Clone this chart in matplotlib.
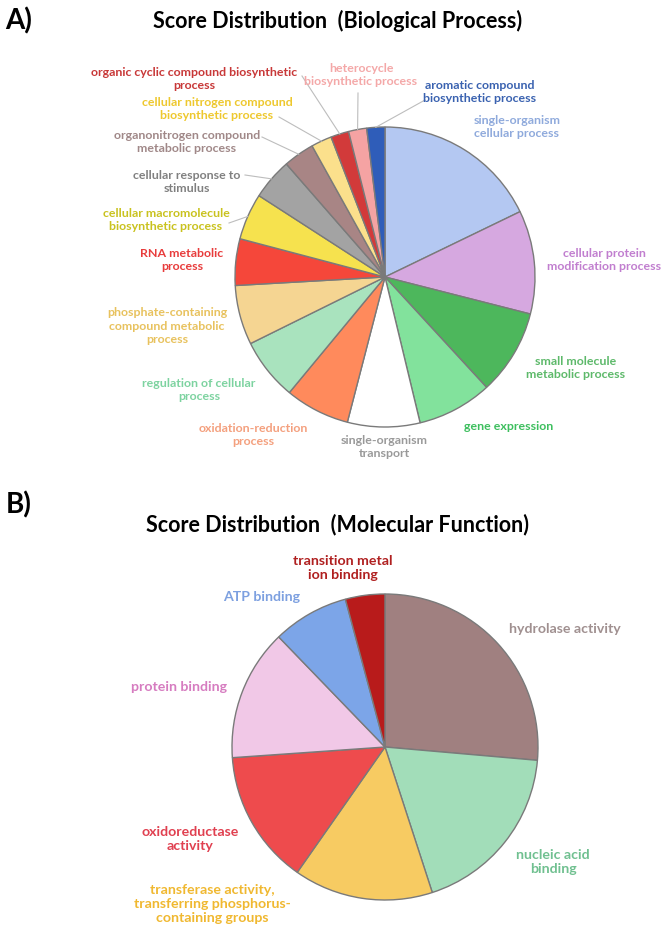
import numpy as np
import matplotlib.pyplot as plt

# ── Data (scores, clockwise from 12 o'clock) ──────────────────────────────────
bp_labels = [
    "single-organism\ncellular process",
    "cellular protein\nmodification process",
    "small molecule\nmetabolic process",
    "gene expression",
    "single-organism\ntransport",
    "oxidation-reduction\nprocess",
    "regulation of cellular\nprocess",
    "phosphate-containing\ncompound metabolic\nprocess",
    "RNA metabolic\nprocess",
    "cellular macromolecule\nbiosynthetic process",
    "cellular response to\nstimulus",
    "organonitrogen compound\nmetabolic process",
    "cellular nitrogen compound\nbiosynthetic process",
    "organic cyclic compound biosynthetic\nprocess",
    "heterocycle\nbiosynthetic process",
    "aromatic compound\nbiosynthetic process",
]
bp_scores = [64, 40, 33, 29, 28, 25, 24, 23, 18, 18, 16, 12, 8, 7, 7, 7]
bp_colors = ['#B4C8F2', '#D6A8E0', '#4DB75C', '#82E29C', '#FFFFFF', '#FF8A5C',
             '#A9E3BE', '#F5D592', '#F5473A', '#F6E24E', '#A3A3A3', '#A88585',
             '#FBE08C', '#D23A3A', '#F5A3A3', '#2F5DB9']
bp_text_colors = ['#8FAADC', '#C17ECF', '#5DB96A', '#3DBF5E', '#9A9A9A', '#F4A07E',
                  '#7DD3A0', '#E8C25E', '#E83C3C', '#C9C21E', '#808080', '#A08888',
                  '#EEC82E', '#C83838', '#F4A8A8', '#3A62B0']

mf_labels = [
    "hydrolase activity",
    "nucleic acid\nbinding",
    "transferase activity,\ntransferring phosphorus-\ncontaining groups",
    "oxidoreductase\nactivity",
    "protein binding",
    "ATP binding",
    "transition metal\nion binding",
]
mf_scores = [95, 67, 53, 51, 50, 29, 15]
mf_colors = ['#A08080', '#A2DDB9', '#F7CB62', '#EE4B4D', '#F1C8E7', '#7CA5E8', '#B81B1B']
mf_text_colors = ['#A09090', '#70C090', '#F0B830', '#E04050', '#D67CC0', '#7DA0E0', '#B02020']

# ── Layout (pixel coordinates, y measured from the top) ──────────────────────
W, H = 666, 934
bp_center, bp_radius = (385, 277), 150
mf_center, mf_radius = (385, 747), 153

bp_text_pos = [(517, 127), (604, 260), (576, 368), (509, 426), (384, 447),
               (253, 435), (199, 390), (167, 326), (182, 260), (166, 220),
               (187, 182), (187, 142), (217, 109), (194, 79), (361, 75), (480, 92)]
# leader line start points for the thin slices (index -> text-side point)
bp_leaders = {9: (229, 223), 10: (245, 175), 11: (262, 137), 12: (279, 117),
              13: (302, 76), 14: (358, 93), 15: (425, 100)}

mf_text_pos = [(565, 629), (553, 862), (212, 904), (190, 839), (179, 687),
               (262, 597), (343, 568)]

FONT = ['Lato', 'DejaVu Sans']

fig = plt.figure(figsize=(W / 100, H / 100), dpi=100)
ax = fig.add_axes([0, 0, 1, 1])


def flip(p):
    return (p[0], H - p[1])


def draw_pie(scores, colors, center, radius):
    wedges, _ = ax.pie(scores, colors=colors, startangle=90, counterclock=False,
                       center=flip(center), radius=radius,
                       wedgeprops=dict(edgecolor='#7A7A7A', linewidth=1.0))
    return wedges


bp_wedges = draw_pie(bp_scores, bp_colors, bp_center, bp_radius)
mf_wedges = draw_pie(mf_scores, mf_colors, mf_center, mf_radius)

for lab, pos, col in zip(bp_labels, bp_text_pos, bp_text_colors):
    x, y = flip(pos)
    ax.text(x, y, lab, ha='center', va='center', fontsize=8.9, fontweight='bold',
            color=col, family=FONT, linespacing=1.25)

for lab, pos, col in zip(mf_labels, mf_text_pos, mf_text_colors):
    x, y = flip(pos)
    ax.text(x, y, lab, ha='center', va='center', fontsize=10.2, fontweight='bold',
            color=col, family=FONT, linespacing=1.25)

# leader lines to the small slices
for idx, start in bp_leaders.items():
    w = bp_wedges[idx]
    mid = np.deg2rad((w.theta1 + w.theta2) / 2)
    cx, cy = flip(bp_center)
    ex, ey = cx + bp_radius * np.cos(mid), cy + bp_radius * np.sin(mid)
    sx, sy = flip(start)
    ax.plot([sx, ex], [sy, ey], color='#BDBDBD', linewidth=0.8)

# titles and panel letters
ax.text(19, H - 21, "A)", ha='center', va='center', fontsize=20, fontweight='bold',
        family=FONT)
ax.text(338, H - 21, "Score Distribution  (Biological Process)", ha='center', va='center',
        fontsize=15.5, fontweight='bold', family=FONT)
ax.text(19, H - 505, "B)", ha='center', va='center', fontsize=20, fontweight='bold',
        family=FONT)
ax.text(338, H - 525, "Score Distribution  (Molecular Function)", ha='center', va='center',
        fontsize=15.5, fontweight='bold', family=FONT)

ax.set_xlim(0, W)
ax.set_ylim(0, H)
ax.set_aspect('equal')
ax.axis('off')

fig.savefig("out.png", dpi=100)
